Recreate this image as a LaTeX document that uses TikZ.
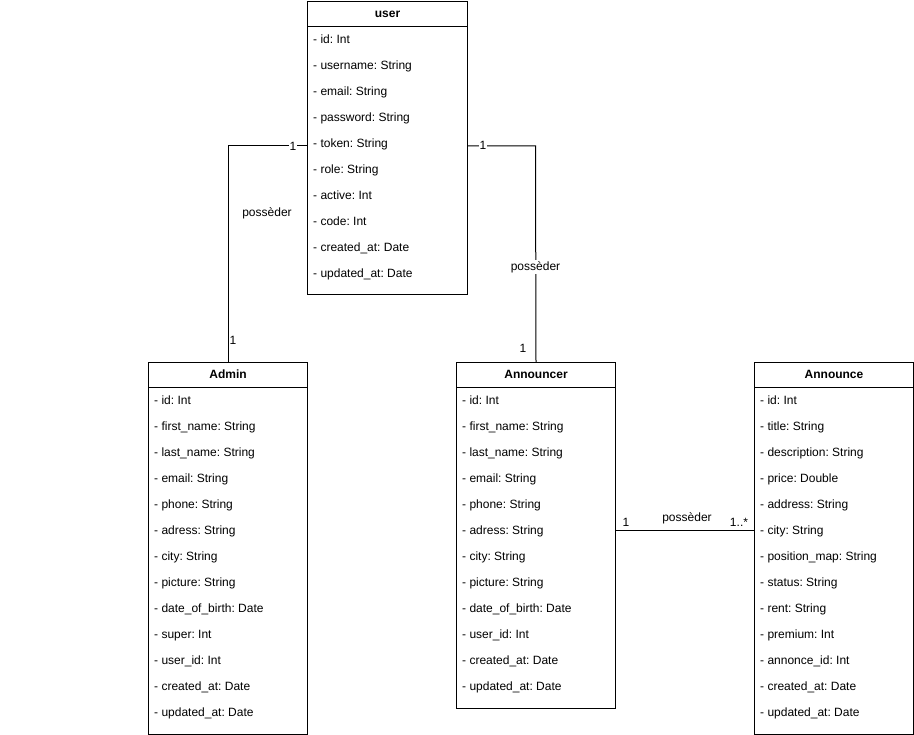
\documentclass[tikz,border=0pt]{standalone}
\usepackage{fontspec}
\setmainfont{Liberation Sans}
\frenchspacing
\usetikzlibrary{calc}
\tikzset{
  classbox/.style={draw=black, line width=1pt, fill=white, rectangle, inner sep=0pt},
  classtitle/.style={font=\fontsize{12}{14}\selectfont\bfseries, inner sep=0pt, text height=8.6pt, text depth=2.5pt},
  attr/.style={font=\fontsize{12}{14}\selectfont, inner sep=0pt, anchor=west, text height=8.6pt, text depth=2.5pt},
  conn/.style={draw=black, line width=1pt},
  lbl/.style={font=\fontsize{12}{14}\selectfont, inner sep=1pt},
  onlinelbl/.style={lbl, fill=white},
}
% #1 name, #2 x, #3 y, #4 width, #5 height, #6 title, #7 attributes
\newcommand{\umlbox}[7]{%
  \node[classbox, minimum width=#4, minimum height=#5, anchor=north west] (#1) at (#2,#3) {};
  \node[classtitle] (#1-title) at ($(#1.north)+(0,13)$) {#6};
  \draw[line width=1pt] ($(#1.north west)+(0,26)$) -- ($(#1.north east)+(0,26)$);
  \foreach \t [count=\i] in {#7}
    \node[attr] (#1-a\i) at ($(#1.north west)+(6,13+26*\i)$) {\t};
}
\begin{document}
\begin{tikzpicture}[x=1pt,y=-1pt]
\useasboundingbox[fill=white] (0,0) rectangle (914,735);

\umlbox{user}{307}{1}{160}{293}{user}{%
  - id: Int, - username: String, - email: String, - password: String,
  - token: String, - role: String, - active: Int, - code: Int,
  - created\_at: Date, - updated\_at: Date}

\umlbox{admin}{148}{362}{159}{372}{Admin}{%
  - id: Int, - first\_name: String, - last\_name: String, - email: String,
  - phone: String, - adress: String, - city: String, - picture: String,
  - date\_of\_birth: Date, - super: Int, - user\_id: Int,
  - created\_at: Date, - updated\_at: Date}

\umlbox{announcer}{456}{362}{159}{346}{Announcer}{%
  - id: Int, - first\_name: String, - last\_name: String, - email: String,
  - phone: String, - adress: String, - city: String, - picture: String,
  - date\_of\_birth: Date, - user\_id: Int,
  - created\_at: Date, - updated\_at: Date}

\umlbox{announce}{754}{362}{159}{372}{Announce}{%
  - id: Int, - title: String, - description: String, - price: Double,
  - address: String, - city: String, - position\_map: String, - status: String,
  - rent: String, - premium: Int, - annonce\_id: Int,
  - created\_at: Date, - updated\_at: Date}

% user -- Admin
\coordinate (ua) at (228,146);
\draw[conn] (user.west |- ua) -- (ua) -- (admin.north);
\node[onlinelbl] (ua-1) at (293,146) {1};
\node[lbl] (ua-2) at (233,340) {1};
\node[lbl] (ua-v) at (267,213) {possèder};

% user -- Announcer
\coordinate (ub) at (535.5,146);
\draw[conn] (user.east |- ub) -- (ub) -- (announcer.north);
\node[onlinelbl] (ub-1) at (483,145) {1};
\node[lbl] (ub-2) at (523,348) {1};
\node[onlinelbl] (ub-v) at (535.5,267) {possèder};

% Announcer -- Announce
\coordinate (ac) at (685,530);
\draw[conn] (announcer.east |- ac) -- (announce.west |- ac);
\node[lbl] (ac-1) at (626,522) {1};
\node[lbl] (ac-v) at (687,518) {possèder};
\node[lbl] (ac-2) at (739,522) {1..*};
\end{tikzpicture}
\end{document}
